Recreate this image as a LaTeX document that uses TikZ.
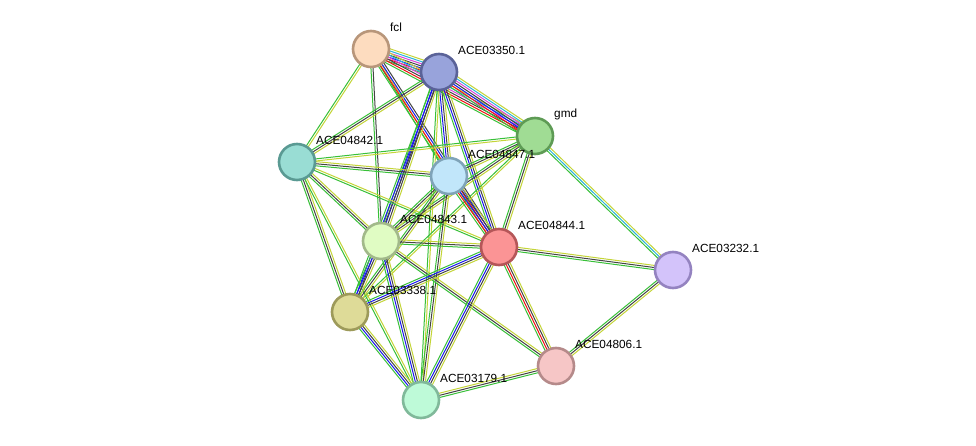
\documentclass[tikz,border=0pt]{standalone}
\usepackage{fontspec}
\setmainfont{Liberation Sans}
\usetikzlibrary{calc,backgrounds}
\definecolor{sg}{HTML}{38C038}
\definecolor{sr}{HTML}{F01010}
\definecolor{sb}{HTML}{1818F0}
\definecolor{sk}{HTML}{444444}
\definecolor{sm}{HTML}{D943D9}
\definecolor{sc}{HTML}{2AB4D8}
\definecolor{sy}{HTML}{C4D538}
\definecolor{fFcl}{HTML}{FDDCBF}\definecolor{bFcl}{HTML}{B8967A}
\definecolor{fA}{HTML}{98A3DB}\definecolor{bA}{HTML}{5A6298}
\definecolor{fG}{HTML}{A0DC94}\definecolor{bG}{HTML}{5E9B55}
\definecolor{fB}{HTML}{99DDD4}\definecolor{bB}{HTML}{5A9A93}
\definecolor{fC}{HTML}{C1E6FA}\definecolor{bC}{HTML}{7FA3B8}
\definecolor{fD}{HTML}{E0FCC3}\definecolor{bD}{HTML}{A2B98A}
\definecolor{fE}{HTML}{FB9495}\definecolor{bE}{HTML}{B55658}
\definecolor{fF}{HTML}{D3C3FA}\definecolor{bF}{HTML}{9483C0}
\definecolor{fH}{HTML}{DEDB98}\definecolor{bH}{HTML}{9D9A5A}
\definecolor{fI}{HTML}{F6C6C6}\definecolor{bI}{HTML}{B58A8A}
\definecolor{fJ}{HTML}{BEFAD8}\definecolor{bJ}{HTML}{80B99A}
\tikzset{
  pnode/.style 2 args={circle, minimum size=36pt, inner sep=0pt, fill=#1, draw=#2, line width=2.6pt},
  lbl/.style={anchor=west, inner sep=0pt, font=\fontsize{11.8}{13}\selectfont, text=black},
  strand/.style={line width=1pt}
}
\newcommand\sedge[4]{%
  \foreach \col [count=\i] in {#4} {%
    \pgfmathsetmacro\off{(\i-(#3+1)/2)*2.1}%
    \draw[strand, color=\col] ($(#1)!\off pt!90:(#2)$) -- ($(#2)!\off pt!-90:(#1)$);
  }%
}
\begin{document}
\begin{tikzpicture}[x=1pt,y=-1pt]
\useasboundingbox (0,0) rectangle (976,446);
\node[pnode={fFcl}{bFcl}] (fcl) at (371,49) {};
\node[pnode={fA}{bA}] (a3350) at (439,72) {};
\node[pnode={fG}{bG}] (gmd) at (535,136) {};
\node[pnode={fB}{bB}] (a4842) at (297,162) {};
\node[pnode={fC}{bC}] (a4847) at (449,176) {};
\node[pnode={fD}{bD}] (a4843) at (381,241) {};
\node[pnode={fE}{bE}] (a4844) at (499,247) {};
\node[pnode={fF}{bF}] (a3232) at (673,270) {};
\node[pnode={fH}{bH}] (a3338) at (350,312) {};
\node[pnode={fI}{bI}] (a4806) at (556,366) {};
\node[pnode={fJ}{bJ}] (a3179) at (421,400) {};
\begin{pgfonlayer}{background}
\fill[white] (0,0) rectangle (976,446);
\sedge{fcl}{a3350}{7}{sg,sr,sb,sk,sm,sc,sy}
\sedge{fcl}{gmd}{6}{sg,sr,sk,sm,sc,sy}
\sedge{a3350}{gmd}{7}{sg,sr,sb,sk,sm,sc,sy}
\sedge{fcl}{a4842}{2}{sg,sy}
\sedge{fcl}{a4843}{2}{sg,sk}
\sedge{fcl}{a4847}{2}{sg,sy}
\sedge{fcl}{a4844}{4}{sg,sr,sb,sk}
\sedge{a3350}{a4842}{3}{sg,sk,sy}
\sedge{a3350}{a4847}{4}{sg,sb,sk,sy}
\sedge{a3350}{a4843}{4}{sg,sb,sk,sy}
\sedge{a3350}{a4844}{4}{sg,sb,sk,sy}
\sedge{a3350}{a3338}{3}{sg,sb,sk}
\sedge{a3350}{a3179}{2}{sg,sy}
\sedge{gmd}{a3232}{3}{sg,sc,sy}
\sedge{gmd}{a4842}{2}{sg,sy}
\sedge{gmd}{a4847}{3}{sg,sk,sy}
\sedge{gmd}{a4843}{3}{sg,sk,sy}
\sedge{gmd}{a4844}{3}{sg,sk,sy}
\sedge{gmd}{a3338}{2}{sg,sy}
\sedge{a4842}{a4847}{3}{sg,sk,sy}
\sedge{a4842}{a4843}{3}{sg,sk,sy}
\sedge{a4842}{a4844}{2}{sg,sy}
\sedge{a4842}{a3338}{3}{sg,sk,sy}
\sedge{a4842}{a3179}{2}{sg,sy}
\sedge{a4847}{a4843}{3}{sg,sk,sy}
\sedge{a4847}{a4844}{5}{sg,sr,sb,sk,sy}
\sedge{a4847}{a3338}{3}{sg,sk,sy}
\sedge{a4847}{a3179}{3}{sg,sk,sy}
\sedge{a4843}{a4844}{3}{sg,sk,sy}
\sedge{a4843}{a3338}{4}{sg,sb,sk,sy}
\sedge{a4843}{a3179}{4}{sg,sb,sk,sy}
\sedge{a4843}{a4806}{3}{sg,sk,sy}
\sedge{a4844}{a3232}{3}{sg,sk,sy}
\sedge{a4844}{a3338}{4}{sg,sb,sk,sy}
\sedge{a4844}{a3179}{4}{sg,sb,sk,sy}
\sedge{a4844}{a4806}{4}{sg,sr,sk,sy}
\sedge{a3338}{a3179}{4}{sg,sb,sk,sy}
\sedge{a3179}{a4806}{3}{sg,sk,sy}
\sedge{a3232}{a4806}{3}{sg,sk,sy}
\end{pgfonlayer}
\node[lbl] (lfcl) at ($(fcl)+(19,-22)$) {fcl};
\node[lbl] (la3350) at ($(a3350)+(19,-22)$) {ACE03350.1};
\node[lbl] (lgmd) at ($(gmd)+(19,-22)$) {gmd};
\node[lbl] (la4842) at ($(a4842)+(19,-22)$) {ACE04842.1};
\node[lbl] (la4847) at ($(a4847)+(19,-22)$) {ACE04847.1};
\node[lbl] (la4843) at ($(a4843)+(19,-22)$) {ACE04843.1};
\node[lbl] (la4844) at ($(a4844)+(19,-22)$) {ACE04844.1};
\node[lbl] (la3232) at ($(a3232)+(19,-22)$) {ACE03232.1};
\node[lbl] (la3338) at ($(a3338)+(19,-22)$) {ACE03338.1};
\node[lbl] (la4806) at ($(a4806)+(19,-22)$) {ACE04806.1};
\node[lbl] (la3179) at ($(a3179)+(19,-22)$) {ACE03179.1};
\end{tikzpicture}
\end{document}
